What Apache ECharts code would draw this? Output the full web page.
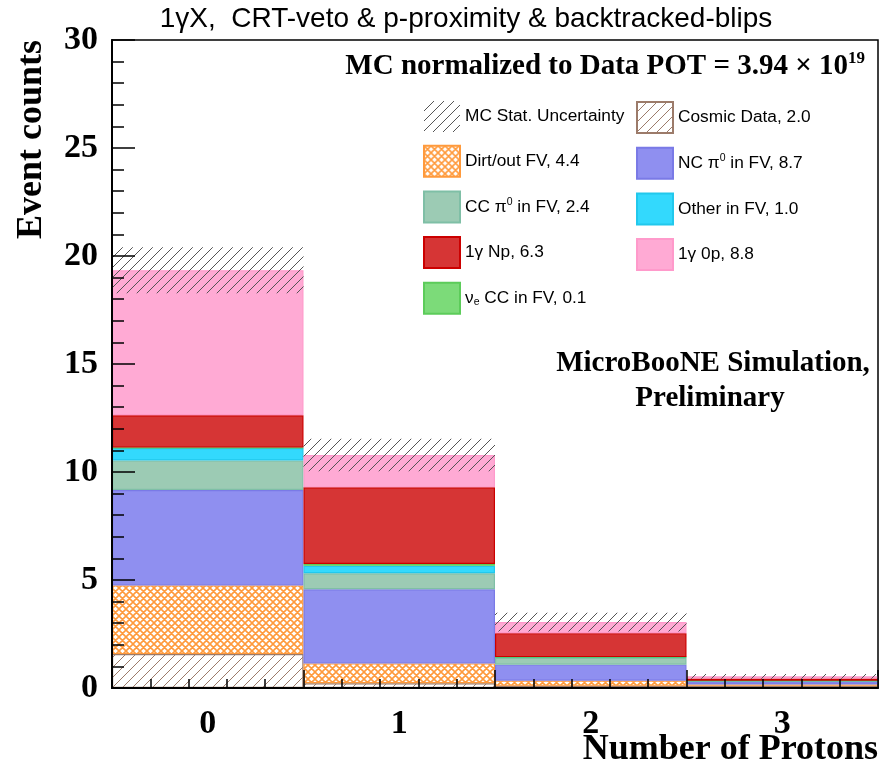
<!DOCTYPE html>
<html>
<head>
<meta charset="utf-8">
<script src="https://cdn.jsdelivr.net/npm/echarts@6/dist/echarts.min.js"></script>
<style>html,body{margin:0;padding:0;background:#fff}#c{width:880px;height:769px}</style>
</head>
<body>
<div id="c"></div>
<script>
// ---- data ----
const bins = ['0', '1', '2', '3'];
const yTicks = [0, 5, 10, 15, 20, 25, 30];
const cosmic = [1.57, 0.22, 0.10, 0.10];
const dirt   = [3.18, 0.92, 0.24, 0.06];
const ncpi0  = [4.42, 3.43, 0.74, 0.15];
const ccpi0  = [1.36, 0.74, 0.32, 0.02];
const other  = [0.58, 0.35, 0.03, 0.01];
const nue    = [0.02, 0.08, 0.00, 0.00];
const gNp    = [1.50, 3.55, 1.11, 0.10];
const g0p    = [6.71, 1.50, 0.51, 0.10];
const mcErr  = [1.07, 0.75, 0.43, 0.11];

// ---- patterns ----
function pattern(color, size, lw, cross) {
  const c = document.createElement('canvas');
  c.width = size; c.height = size;
  const ctx = c.getContext('2d');
  ctx.strokeStyle = color; ctx.lineWidth = lw;
  ctx.beginPath();
  for (let k = -1; k <= 1; k++) {
    ctx.moveTo(k * size, size); ctx.lineTo(k * size + size, 0);
    if (cross) { ctx.moveTo(k * size, 0); ctx.lineTo(k * size + size, size); }
  }
  ctx.stroke();
  return { image: c, repeat: 'repeat' };
}
const hatchGrey = pattern('#555555', 10, 1, false);
const hatchBrown = pattern('#9c7b6a', 10, 1, false);
const crossOrange = pattern('#ff9a3c', 7, 1.6, true);

const total = bins.map((_, i) => cosmic[i] + dirt[i] + ncpi0[i] + ccpi0[i] + other[i] + nue[i] + gNp[i] + g0p[i]);
const errBase = total.map((t, i) => t - mcErr[i]);
const errBand = mcErr.map(e => 2 * e);

const N = {
  mc: 'MC Stat. Uncertainty', cos: 'Cosmic Data, 2.0', dirt: 'Dirt/out FV, 4.4', nc: 'NC pi0 in FV, 8.7',
  cc: 'CC pi0 in FV, 2.4', oth: 'Other in FV, 1.0', np: '1g Np, 6.3', op: '1g 0p, 8.8', nue: 'nue CC in FV, 0.1'
};
const labelRich = {};
labelRich[N.mc] = 'MC Stat. Uncertainty';
labelRich[N.cos] = 'Cosmic Data, 2.0';
labelRich[N.dirt] = 'Dirt/out FV, 4.4';
labelRich[N.nc] = 'NC π{sup|0} in FV, 8.7';
labelRich[N.cc] = 'CC π{sup|0} in FV, 2.4';
labelRich[N.oth] = 'Other in FV, 1.0';
labelRich[N.np] = '1γ Np, 6.3';
labelRich[N.op] = '1γ 0p, 8.8';
labelRich[N.nue] = 'ν{sub|e} CC in FV, 0.1';

function stackBar(name, data, color, border, z) {
  return {
    name, type: 'bar', stack: 'mc', data, barWidth: '100%', barGap: '-100%',
    xAxisIndex: 0, z: z || 2,
    itemStyle: { color, borderColor: border, borderWidth: 1.2 },
    emphasis: { disabled: true }, animation: false
  };
}

const series = [
  stackBar(N.cos, cosmic, hatchBrown, '#9c7b6a'),
  stackBar(N.dirt, dirt, crossOrange, '#ff9a3c'),
  stackBar(N.nc, ncpi0, '#8f8ff0', '#7a7ae6'),
  stackBar(N.cc, ccpi0, '#9ccbb4', '#7fbfa6'),
  stackBar(N.oth, other, '#33d9fd', '#22c8ec'),
  stackBar(N.nue, nue, '#7cdb79', '#5ccc5a'),
  stackBar(N.np, gNp, '#d63535', '#cc0000'),
  stackBar(N.op, g0p, '#ffaad4', '#ff9acb'),
  {
    name: 'errbase', type: 'bar', stack: 'err', data: errBase, barWidth: '100%', barGap: '-100%',
    itemStyle: { color: 'rgba(0,0,0,0)' }, z: 1, silent: true, animation: false
  },
  {
    name: N.mc, type: 'bar', stack: 'err', data: errBand, barWidth: '100%', barGap: '-100%',
    itemStyle: { color: hatchGrey, borderColor: '#777', borderWidth: 0 }, z: 5, silent: true, animation: false
  }
];

const legendText = {
  color: '#000', fontFamily: 'Liberation Sans, Arial', fontSize: 17.3,
  rich: {
    sup: { fontSize: 10.5, verticalAlign: 'top', padding: [0, 0, 10, 0], fontFamily: 'Liberation Sans' },
    sub: { fontSize: 10.5, verticalAlign: 'bottom', padding: [8, 0, 0, 0], fontFamily: 'Liberation Sans' }
  }
};
function legendCfg(left, names) {
  return {
    orient: 'vertical', left, top: 101, itemWidth: 36, itemHeight: 31, itemGap: 12.7,
    icon: 'rect', selectedMode: false, data: names, textStyle: legendText,
    formatter: n => labelRich[n], padding: 0
  };
}

const serif = 'Liberation Serif, Times New Roman, serif';
const option = {
  animation: false,
  grid: { left: 112, right: 2, top: 40, bottom: 81, show: true, borderColor: '#000', borderWidth: 1.5, backgroundColor: 'transparent' },
  title: {
    text: '1γX,  CRT-veto & p-proximity & backtracked-blips', left: 461, top: 0, textAlign: 'center',
    textStyle: { fontFamily: 'Liberation Sans, Arial', fontWeight: 'normal', fontSize: 28, color: '#000' }
  },
  legend: [
    legendCfg(423, [N.mc, N.dirt, N.cc, N.np, N.nue]),
    legendCfg(636, [N.cos, N.nc, N.oth, N.op])
  ],
  xAxis: [
    {
      type: 'category', data: bins, position: 'bottom', z: 10,
      axisLine: { show: true, onZero: false, lineStyle: { color: '#000', width: 2 } },
      axisTick: { show: false },
      axisLabel: { fontFamily: serif, fontWeight: 'bold', fontSize: 34, color: '#000', margin: 19 }
    },
    {
      type: 'value', min: -0.5, max: 3.5, interval: 1, position: 'bottom', z: 10,
      axisLine: { show: false, onZero: false },
      axisTick: { show: true, inside: true, length: 18, lineStyle: { color: '#000', width: 1.5 } },
      minorTick: { show: true, splitNumber: 5, length: 9, lineStyle: { color: '#000', width: 1.5 } },
      axisLabel: { show: false }, splitLine: { show: false }
    }
  ],
  yAxis: {
    type: 'value', min: 0, max: 30, interval: 5, position: 'left', z: 10,
    axisLine: { show: true, onZero: false, lineStyle: { color: '#000', width: 2 } },
    axisTick: { show: true, inside: true, length: 23, lineStyle: { color: '#000', width: 1.5 } },
    minorTick: { show: true, splitNumber: 5, length: 12, lineStyle: { color: '#000', width: 1.5 } },
    splitLine: { show: false },
    axisLabel: {
      fontFamily: serif, fontWeight: 'bold', fontSize: 34, color: '#000', margin: 14,
      formatter: v => (yTicks.indexOf(v) >= 0 ? String(v) : '')
    }
  },
  graphic: [
    {
      type: 'text', left: 14, top: 40, rotation: Math.PI / 2,
      style: { text: 'Event counts', font: 'bold 36px ' + serif, fill: '#000' }
    },
    {
      type: 'text', right: 2, top: 732,
      style: { text: 'Number of Protons', font: 'bold 36px ' + serif, fill: '#000' }
    },
    {
      type: 'text', right: 15, top: 50,
      style: {
        text: 'MC normalized to Data POT = 3.94 × 10{s|19}', font: 'bold 29px ' + serif, fill: '#000',
        rich: { s: { font: 'bold 17px ' + serif, verticalAlign: 'top', padding: [0, 0, 16, 0] } }
      }
    },
    {
      type: 'text', x: 713, y: 364,
      style: {
        text: 'MicroBooNE Simulation,', font: 'bold 29px ' + serif, fill: '#000',
        align: 'center', verticalAlign: 'middle'
      }
    },
    {
      type: 'text', x: 710, y: 399,
      style: {
        text: 'Preliminary', font: 'bold 29px ' + serif, fill: '#000',
        align: 'center', verticalAlign: 'middle'
      }
    }
  ],
  series
};

const chart = echarts.init(document.getElementById('c'), null, { renderer: 'canvas' });
chart.setOption(option);
</script>
</body>
</html>
